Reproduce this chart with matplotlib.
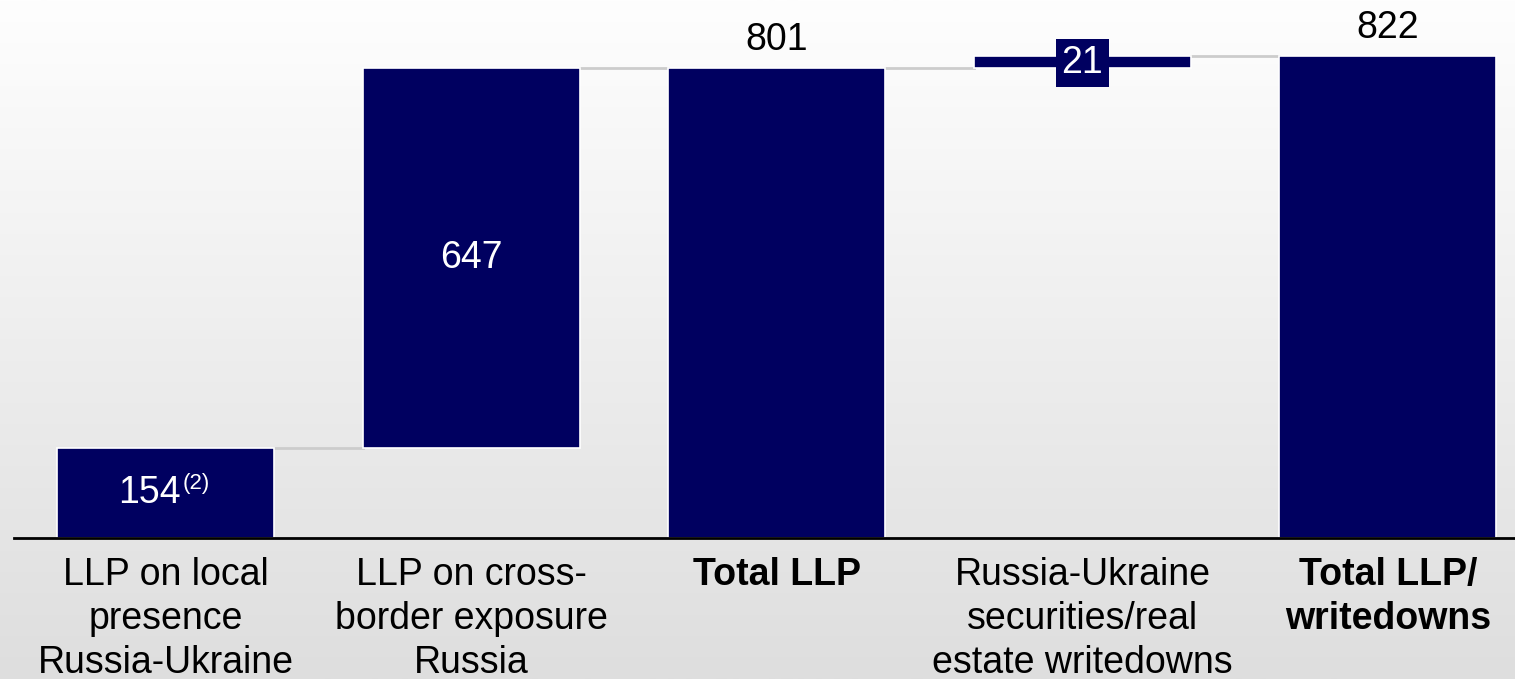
"""
Waterfall: LLP and writedowns Russia-Ukraine
"""

import numpy as np
import matplotlib.pyplot as plt

plt.rcParams['font.family'] = ['Liberation Sans', 'DejaVu Sans']

# Datos
categorias = ["LLP on local\npresence\nRussia-Ukraine",
              "LLP on cross-\nborder exposure\nRussia",
              "Total LLP",
              "Russia-Ukraine\nsecurities/real\nestate writedowns",
              "Total LLP/\nwritedowns"]
valores = [154, 647, 801, 21, 822]
es_total = [False, False, True, False, True]
etiquetas = ["154", "647", "801", "21", "822"]

NAVY = "#000060"
GRIS_CONECTOR = "#cccccc"

# Calcular bases de la cascada
bases = []
acumulado = 0
for v, t in zip(valores, es_total):
    if t:
        bases.append(0)
        acumulado = v
    else:
        bases.append(acumulado)
        acumulado += v
tops = [b + v for b, v in zip(bases, valores)]

fig = plt.figure(figsize=(15.15, 6.79), dpi=100)

# Fondo degradado
bg = fig.add_axes([0, 0, 1, 1])
grad = np.linspace(0, 1, 256).reshape(-1, 1)
bg.imshow(grad, aspect='auto', cmap=plt.matplotlib.colors.LinearSegmentedColormap.from_list(
    'bg', ['#fefefe', '#dedede']), extent=[0, 1, 0, 1], origin='upper')
bg.axis('off')

ax = fig.add_axes([0, 0.2077, 1, 0.7923])
ax.patch.set_alpha(0)
x = np.arange(len(valores))
ancho = 0.71
ax.bar(x, valores, bottom=bases, width=ancho, color=NAVY, edgecolor='white',
       linewidth=1.2, zorder=3)

# Conectores
for i in range(len(valores) - 1):
    ax.plot([x[i] + ancho / 2, x[i + 1] - ancho / 2], [tops[i], tops[i]],
            color=GRIS_CONECTOR, linewidth=2, zorder=2)

ax.set_xlim(-0.543, 4.416)
ax.set_ylim(0, 917)

fs = 27
# Etiquetas de valores
off = 0.05
ax.text(x[0] + off, bases[0] + valores[0] / 2, etiquetas[0], color='white',
        fontsize=fs, ha='right', va='center', zorder=4)
ax.text(x[0] + off + 0.004, bases[0] + valores[0] / 2 + 16, "(2)", color='white',
        fontsize=16, ha='left', va='center', zorder=4)
ax.text(x[1], bases[1] + valores[1] / 2, etiquetas[1], color='white',
        fontsize=fs, ha='center', va='center', zorder=4)
ax.text(x[2], tops[2] + 47, etiquetas[2], color='black',
        fontsize=fs, ha='center', va='center', zorder=4)
ax.text(x[3], bases[3] + valores[3] / 2 - 2, etiquetas[3], color='white',
        fontsize=fs, ha='center', va='center', zorder=4,
        bbox=dict(boxstyle='square,pad=0.15', facecolor=NAVY, edgecolor='none'))
ax.text(x[4], tops[4] + 47, etiquetas[4], color='black',
        fontsize=fs, ha='center', va='center', zorder=4)

# Ejes
ax.set_xticks(x)
ax.set_xticklabels(categorias, fontsize=fs, linespacing=1.27)
for lbl, t in zip(ax.get_xticklabels(), es_total):
    if t:
        lbl.set_fontweight('bold')
ax.tick_params(axis='x', length=0, pad=14)
ax.set_yticks([])
for s in ['top', 'left', 'right']:
    ax.spines[s].set_visible(False)
ax.spines['bottom'].set_bounds(-0.4975, 4.416)
ax.spines['bottom'].set_linewidth(2)
ax.spines['bottom'].set_zorder(5)

plt.savefig('out.png', dpi=100)
